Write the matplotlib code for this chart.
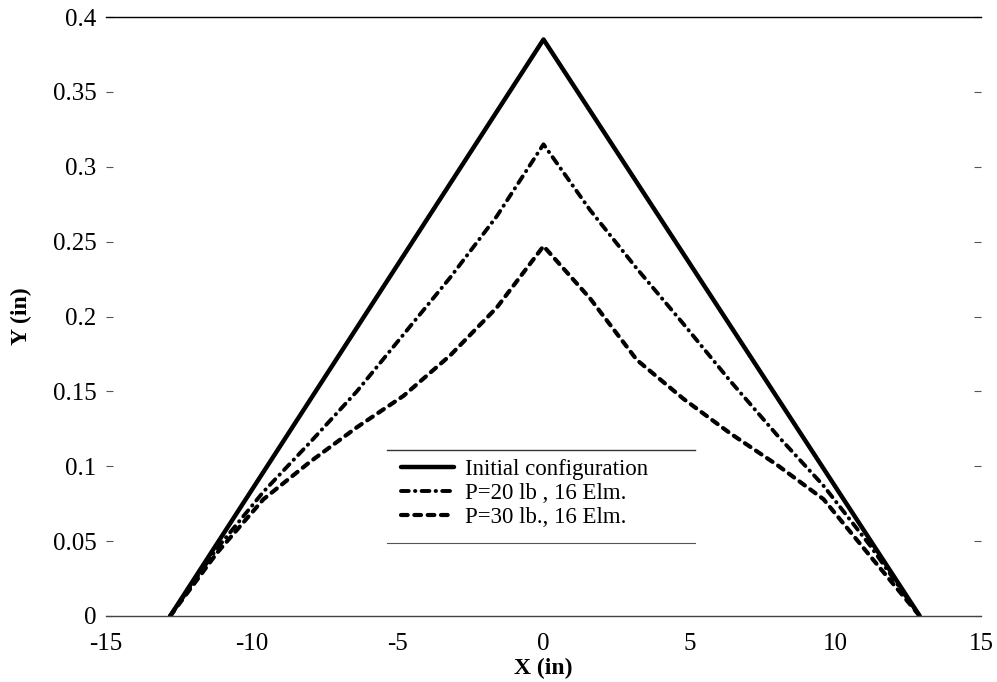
import matplotlib
matplotlib.use("Agg")
import matplotlib.pyplot as plt
from matplotlib.lines import Line2D

plt.rcParams['font.family'] = ['Liberation Serif', 'DejaVu Serif']

# Data
x_init = [-12.8, 0.0, 12.9]
y_init = [0.0, 0.385, 0.0]

x_p20 = [-12.8, -11.2, -9.6, -8.0, -6.4, -4.8, -3.2, -1.6, 0.0,
         1.6, 3.2, 4.8, 6.4, 8.0, 9.6, 11.2, 12.9]
y_p20 = [0.0, 0.045, 0.083, 0.116, 0.150, 0.188, 0.226, 0.267, 0.315,
         0.271, 0.232, 0.195, 0.157, 0.121, 0.087, 0.047, 0.0]

x_p30 = [-12.8, -11.2, -9.6, -8.0, -6.4, -4.8, -3.2, -1.6, 0.0,
         1.6, 3.2, 4.8, 6.4, 8.0, 9.6, 11.2, 12.9]
y_p30 = [0.0, 0.042, 0.078, 0.103, 0.126, 0.147, 0.174, 0.206, 0.247,
         0.212, 0.171, 0.145, 0.122, 0.101, 0.078, 0.040, 0.0]

labels = ["Initial configuration", "P=20 lb , 16 Elm.", "P=30 lb., 16 Elm."]
xticks = [-15, -10, -5, 0, 5, 10, 15]
yticks = [0, 0.05, 0.1, 0.15, 0.2, 0.25, 0.3, 0.35, 0.4]
ytick_labels = ["0", "0.05", "0.1", "0.15", "0.2", "0.25", "0.3", "0.35", "0.4"]

fig = plt.figure(figsize=(9.97, 6.82), dpi=100)
ax = fig.add_axes([106/997, 1-616/682, 875/997, 599/682])

l1, = ax.plot(x_init, y_init, color='black', lw=3.2, solid_capstyle='round',
              solid_joinstyle='round')
l2, = ax.plot(x_p20, y_p20, color='black', lw=2.8, dashes=(2.0, 1.6, 0.1, 1.6),
              dash_capstyle='round')
l3, = ax.plot(x_p30, y_p30, color='black', lw=3.0, dashes=(1.6, 1.6),
              dash_capstyle='round')

ax.set_xlim(-15, 15)
ax.set_ylim(0, 0.4)
ax.set_xticks(xticks)
ax.set_xticklabels([str(v) for v in xticks])
ax.set_yticks(yticks)
ax.set_yticklabels(ytick_labels)

for side in ['left', 'right']:
    ax.spines[side].set_visible(False)
ax.spines['top'].set_linewidth(1.0)
ax.spines['bottom'].set_linewidth(1.0)
ax.spines['bottom'].set_color('#444444')

ax.tick_params(axis='y', direction='in', length=5, width=0.8, left=True,
               right=True, labelsize=18, pad=7, colors='#555555',
               labelcolor='black')
ax.tick_params(axis='x', length=0, labelsize=18, pad=12)

ax.set_xlabel("X (in)", fontsize=17, fontweight='bold', labelpad=2)
ax.set_ylabel("Y (in)", fontsize=17, fontweight='bold', labelpad=15)

leg = ax.legend([l1, l2, l3], labels, loc='upper left',
                bbox_to_anchor=((392-106)/875, (616-450)/599),
                frameon=False, fontsize=16.5, handlelength=2.3,
                handletextpad=0.5, labelspacing=0.12, borderaxespad=0)

# legend frame top/bottom rules
fig.add_artist(Line2D([387/997, 695/997], [1-450/682, 1-450/682],
                      color='#333333', lw=1.0))
fig.add_artist(Line2D([387/997, 695/997], [1-543/682, 1-543/682],
                      color='#555555', lw=0.8))

fig.savefig("out.png", dpi=100)
